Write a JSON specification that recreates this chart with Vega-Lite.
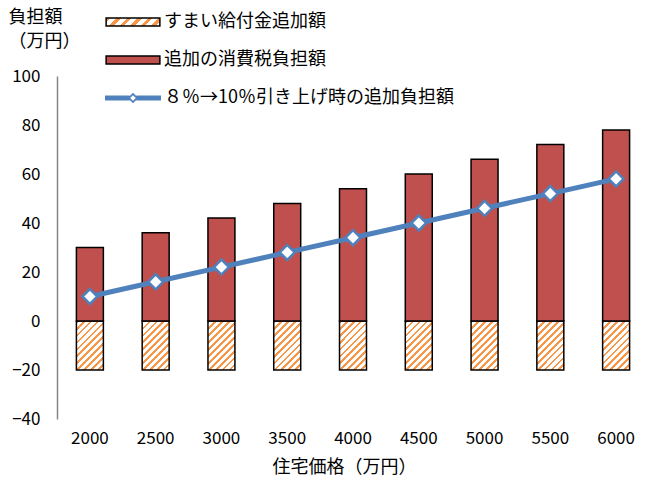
{
  "$schema": "https://vega.github.io/schema/vega-lite/v6.json",
  "width": 592,
  "height": 343,
  "autosize": "none",
  "padding": {"left": 57, "top": 76, "right": 0, "bottom": 62},
  "background": "white",
  "config": {
    "view": {"stroke": null},
    "font": "Noto Sans CJK JP",
    "axis": {"labelColor": "#000000", "titleColor": "#000000", "titleFontWeight": "normal", "labelFont": "Noto Sans CJK JP", "titleFont": "Noto Sans CJK JP"}
  },
  "data": {
    "values": [
      {"price": 2000, "gift": -20, "tax": 30, "burden": 10},
      {"price": 2500, "gift": -20, "tax": 36, "burden": 16},
      {"price": 3000, "gift": -20, "tax": 42, "burden": 22},
      {"price": 3500, "gift": -20, "tax": 48, "burden": 28},
      {"price": 4000, "gift": -20, "tax": 54, "burden": 34},
      {"price": 4500, "gift": -20, "tax": 60, "burden": 40},
      {"price": 5000, "gift": -20, "tax": 66, "burden": 46},
      {"price": 5500, "gift": -20, "tax": 72, "burden": 52},
      {"price": 6000, "gift": -20, "tax": 78, "burden": 58}
    ]
  },
  "encoding": {
    "x": {
      "field": "price",
      "type": "ordinal",
      "scale": {"paddingInner": 0.59, "paddingOuter": 0.295},
      "axis": {
        "title": "住宅価格（万円）",
        "titleFontSize": 18,
        "titlePadding": 12,
        "titleX": 287,
        "labelAngle": 0,
        "labelFontSize": 17,
        "labelPadding": 11,
        "domain": false,
        "ticks": false,
        "grid": false
      }
    }
  },
  "layer": [
    {
      "mark": {
        "type": "bar",
        "stroke": "#000000",
        "strokeWidth": 1.5,
        "fill": {
          "gradient": "linear",
          "x1": 0, "y1": 0, "x2": 0.656, "y2": 1.19,
          "stops": [
            {"offset": 0, "color": "#F79646"}, {"offset": 0.036, "color": "#F79646"}, {"offset": 0.036, "color": "#FFFFFF"}, {"offset": 0.0909, "color": "#FFFFFF"},
            {"offset": 0.0909, "color": "#F79646"}, {"offset": 0.127, "color": "#F79646"}, {"offset": 0.127, "color": "#FFFFFF"}, {"offset": 0.182, "color": "#FFFFFF"},
            {"offset": 0.182, "color": "#F79646"}, {"offset": 0.218, "color": "#F79646"}, {"offset": 0.218, "color": "#FFFFFF"}, {"offset": 0.273, "color": "#FFFFFF"},
            {"offset": 0.273, "color": "#F79646"}, {"offset": 0.309, "color": "#F79646"}, {"offset": 0.309, "color": "#FFFFFF"}, {"offset": 0.364, "color": "#FFFFFF"},
            {"offset": 0.364, "color": "#F79646"}, {"offset": 0.4, "color": "#F79646"}, {"offset": 0.4, "color": "#FFFFFF"}, {"offset": 0.455, "color": "#FFFFFF"},
            {"offset": 0.455, "color": "#F79646"}, {"offset": 0.491, "color": "#F79646"}, {"offset": 0.491, "color": "#FFFFFF"}, {"offset": 0.545, "color": "#FFFFFF"},
            {"offset": 0.545, "color": "#F79646"}, {"offset": 0.582, "color": "#F79646"}, {"offset": 0.582, "color": "#FFFFFF"}, {"offset": 0.636, "color": "#FFFFFF"},
            {"offset": 0.636, "color": "#F79646"}, {"offset": 0.673, "color": "#F79646"}, {"offset": 0.673, "color": "#FFFFFF"}, {"offset": 0.727, "color": "#FFFFFF"},
            {"offset": 0.727, "color": "#F79646"}, {"offset": 0.764, "color": "#F79646"}, {"offset": 0.764, "color": "#FFFFFF"}, {"offset": 0.818, "color": "#FFFFFF"},
            {"offset": 0.818, "color": "#F79646"}, {"offset": 0.855, "color": "#F79646"}, {"offset": 0.855, "color": "#FFFFFF"}, {"offset": 0.909, "color": "#FFFFFF"},
            {"offset": 0.909, "color": "#F79646"}, {"offset": 0.945, "color": "#F79646"}, {"offset": 0.945, "color": "#FFFFFF"}, {"offset": 1, "color": "#FFFFFF"}
          ]
        }
      },
      "encoding": {
        "y": {
          "field": "gift",
          "type": "quantitative",
          "scale": {"domain": [-40, 100], "nice": false},
          "axis": {
            "title": ["負担額", "（万円）"],
            "titleAngle": 0,
            "titleAlign": "left",
            "titleBaseline": "top",
            "titleAnchor": "end",
            "titleX": -49,
            "titleY": -68,
            "titleFontSize": 18,
            "titleLineHeight": 24,
            "values": [-40, -20, 0, 20, 40, 60, 80, 100],
            "labelFontSize": 17,
            "labelPadding": 17,
            "ticks": false,
            "grid": false,
            "domainColor": "#868686",
            "domainWidth": 1.5
          }
        }
      }
    },
    {
      "mark": {"type": "bar", "stroke": "#000000", "strokeWidth": 1.5},
      "encoding": {
        "y": {"field": "tax", "type": "quantitative"},
        "color": {
          "datum": "追加の消費税負担額",
          "scale": {
            "domain": ["すまい給付金追加額", "追加の消費税負担額", "８％→10％引き上げ時の追加負担額"],
            "range": [
              {"expr": "{gradient: 'linear', x1: 0, y1: 0, x2: 1.15, y2: 0.17, stops: [{offset: 0, color: '#F79646'}, {offset: 0.07, color: '#F79646'}, {offset: 0.07, color: '#FFFFFF'}, {offset: 0.1667, color: '#FFFFFF'}, {offset: 0.1667, color: '#F79646'}, {offset: 0.2367, color: '#F79646'}, {offset: 0.2367, color: '#FFFFFF'}, {offset: 0.3333, color: '#FFFFFF'}, {offset: 0.3333, color: '#F79646'}, {offset: 0.4033, color: '#F79646'}, {offset: 0.4033, color: '#FFFFFF'}, {offset: 0.5, color: '#FFFFFF'}, {offset: 0.5, color: '#F79646'}, {offset: 0.57, color: '#F79646'}, {offset: 0.57, color: '#FFFFFF'}, {offset: 0.6667, color: '#FFFFFF'}, {offset: 0.6667, color: '#F79646'}, {offset: 0.7367, color: '#F79646'}, {offset: 0.7367, color: '#FFFFFF'}, {offset: 0.8333, color: '#FFFFFF'}, {offset: 0.8333, color: '#F79646'}, {offset: 0.9033, color: '#F79646'}, {offset: 0.9033, color: '#FFFFFF'}, {offset: 1, color: '#FFFFFF'}]}"},
              "#C0504D",
              "#4F81BD"
            ]
          },
          "legend": {
            "title": null,
            "orient": "none",
            "legendX": 67,
            "legendY": -63,
            "direction": "vertical",
            "padding": 0,
            "rowPadding": 20,
            "symbolSize": 3136,
            "labelOffset": 22,
            "labelFontSize": 18,
            "labelColor": "#000000",
            "labelFont": "Noto Sans CJK JP",
            "labelLimit": 500,
            "encoding": {
              "symbols": {
                "shape": {"value": {"expr": "datum.value === '８％→10％引き上げ時の追加負担額' ? 'M-1,-0.09H-0.12V0.09H-1Z M0.12,-0.09H1V0.09H0.12Z M0,-0.19L0.19,0L0,0.19L-0.19,0Z M0,-0.1L-0.1,0L0,0.1L0.1,0Z' : 'M-0.96,-0.14H0.96V0.14H-0.96Z'"}},
                "stroke": {"value": {"expr": "datum.value === '８％→10％引き上げ時の追加負担額' ? 'transparent' : '#000000'"}},
                "strokeWidth": {"value": {"expr": "datum.value === '８％→10％引き上げ時の追加負担額' ? 0 : 1.5"}},
                "opacity": {"value": 1}
              }
            }
          }
        }
      }
    },
    {
      "mark": {"type": "rule", "color": "#868686", "strokeWidth": 1.5},
      "encoding": {"y": {"datum": 0}}
    },
    {
      "mark": {
        "type": "line",
        "color": "#4F81BD",
        "strokeWidth": 5,
        "point": {"shape": "diamond", "size": 225, "filled": true, "fill": "#FFFFFF", "stroke": "#4F81BD", "strokeWidth": 2.5, "opacity": 1}
      },
      "encoding": {
        "y": {"field": "burden", "type": "quantitative"}
      }
    }
  ]
}
